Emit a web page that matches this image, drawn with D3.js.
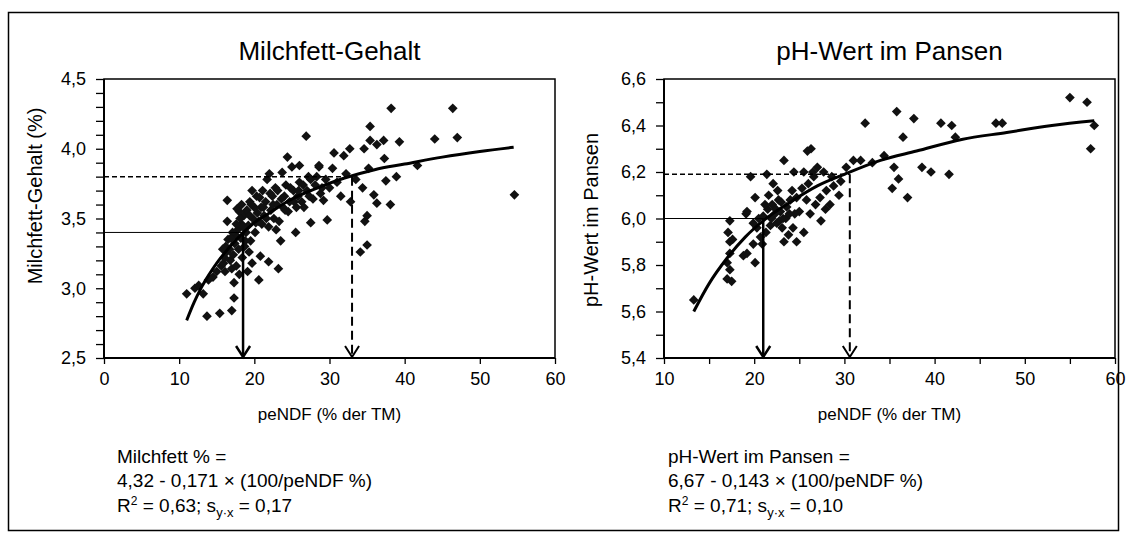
<!DOCTYPE html>
<html>
<head>
<meta charset="utf-8">
<script src="https://cdnjs.cloudflare.com/ajax/libs/d3/7.8.5/d3.min.js"></script>
<style>
body{margin:0;background:#fff;}
svg text{font-family:"Liberation Sans",Arial,sans-serif;fill:#000;}
</style>
</head>
<body>
<svg id="chart" width="1126" height="542"></svg>
<script>
// Milchfett: Punkte [peNDF, Fett %]
var milkPts = [
 [11.0,2.96],[12.1,3.00],[13.2,2.96],[12.6,3.02],[13.7,2.80],[13.9,3.06],[14.5,3.08],[15.0,3.12],
 [15.6,3.16],[15.9,3.18],[15.4,2.82],[16.0,3.22],[16.2,3.30],[16.3,3.26],[16.5,3.35],[16.7,3.28],
 [16.8,3.20],[17.0,2.84],[17.3,2.93],[17.3,3.04],[17.0,3.14],[17.2,3.24],[17.4,3.32],[17.5,3.38],
 [17.6,3.16],[17.8,3.42],[17.9,3.28],[18.0,3.10],[18.2,3.36],[18.3,3.46],[18.4,3.22],[18.6,3.52],
 [18.7,3.30],[18.9,3.40],[19.0,3.56],[19.1,3.12],[19.2,3.45],[19.4,3.62],[19.5,3.34],[19.7,3.18],
 [19.7,3.70],[19.8,3.50],[20.0,3.58],[20.1,3.40],[20.3,3.66],[20.6,3.06],[20.6,3.48],[20.8,3.23],
 [20.9,3.58],[21.1,3.70],[21.3,3.52],[21.5,3.62],[21.7,3.78],[21.9,3.19],[21.9,3.44],[22.2,3.56],
 [22.4,3.66],[22.6,3.50],[22.8,3.72],[23.0,3.60],[23.2,3.14],[23.3,3.48],[23.5,3.34],[23.7,3.83],
 [23.8,3.58],[24.0,3.66],[24.2,3.74],[24.4,3.94],[24.5,3.55],[24.7,3.62],[25.0,3.87],[25.2,3.70],
 [25.5,3.40],[25.6,3.58],[25.8,3.66],[26.0,3.76],[26.3,3.62],[26.6,3.58],[26.9,4.09],[27.0,3.70],
 [27.2,3.80],[27.5,3.47],[27.8,3.64],[28.1,3.74],[28.6,3.87],[28.8,3.68],[29.2,3.63],[29.5,3.78],
 [29.7,3.49],[30.0,3.72],[30.4,3.86],[30.6,3.97],[31.0,3.76],[31.5,3.66],[31.9,3.95],[32.2,3.82],
 [32.7,4.00],[32.8,3.62],[33.5,3.78],[34.1,3.26],[35.0,3.31],[34.4,3.72],[34.6,4.00],[34.7,3.48],
 [35.0,3.52],[35.2,3.86],[35.4,4.16],[35.4,4.06],[35.9,3.67],[36.3,3.61],[36.3,4.03],[37.2,4.06],
 [37.3,3.93],[37.5,3.77],[38.1,3.60],[38.2,4.29],[38.9,3.80],[39.3,4.05],[41.7,3.88],[44.0,4.07],
 [46.4,4.29],[47.0,4.08],[54.6,3.67],[16.4,3.63],[16.4,3.48],[17.7,3.57],[22.0,3.82],[26.0,3.88],
 [27.5,3.78],[28.6,3.88],[18.1,3.50],[18.8,3.34],[19.3,3.26],[20.4,3.54],[21.0,3.46],[22.9,3.42],
 [17.1,3.40],[17.6,3.46],[18.0,3.55],[18.5,3.44],[19.6,3.60],[20.2,3.47],[20.7,3.65],[21.2,3.58],
 [21.6,3.50],[22.1,3.68],[22.5,3.60],[23.1,3.70],[23.6,3.64],[24.1,3.56],[24.8,3.72],[25.3,3.62],
 [25.9,3.70],[26.5,3.74],[27.3,3.66],[28.3,3.80],[29.0,3.72],[16.9,3.36],[18.3,3.60],[19.4,3.52],
 [15.8,3.28],[16.1,3.12]
];
var milkFitX = [11, 12, 13, 14, 15, 16, 18, 20, 22, 25, 28, 32, 36, 40, 45, 50, 54.5];
var milkFitY = [2.77, 2.90, 3.01, 3.10, 3.18, 3.25, 3.37, 3.47, 3.54, 3.64, 3.71, 3.79, 3.85, 3.89, 3.94, 3.98, 4.01];
var milkSolid = [18.5, 3.4];
var milkDash = [33, 3.8];

// pH im Pansen
var phPts = [
 [13.3,5.65],[17.0,5.81],[17.0,5.74],[17.5,5.73],[17.3,5.78],[17.3,5.85],[17.3,5.90],[17.1,5.94],
 [17.3,5.99],[17.6,5.91],[18.8,5.84],[19.2,5.85],[20.1,5.81],[19.9,5.89],[20.9,5.89],[19.1,6.02],
 [19.9,5.98],[19.2,6.03],[20.1,6.09],[19.6,6.18],[21.4,6.19],[22.1,6.15],[20.5,6.00],[21.0,6.01],
 [21.5,6.04],[21.8,5.97],[22.0,6.06],[22.3,6.02],[22.5,5.98],[22.7,6.08],[22.9,6.03],[23.1,5.96],
 [23.3,5.90],[23.5,6.00],[23.6,6.05],[23.8,5.93],[24.0,6.08],[24.2,6.12],[24.4,6.20],[24.7,6.09],
 [24.7,5.90],[25.0,6.03],[25.3,6.13],[25.5,6.20],[25.5,5.94],[25.9,6.29],[26.3,6.30],[23.3,6.25],
 [26.0,6.15],[26.6,6.18],[26.8,6.06],[27.3,6.09],[27.4,5.99],[27.7,6.20],[28.0,6.12],[28.4,6.06],
 [28.8,6.14],[29.4,6.10],[29.6,6.16],[30.2,6.22],[31.0,6.25],[31.8,6.25],[32.3,6.41],[33.1,6.24],
 [34.4,6.27],[35.5,6.22],[35.3,6.13],[35.8,6.46],[36.0,6.17],[36.5,6.35],[37.0,6.09],[37.7,6.43],
 [38.6,6.22],[39.6,6.20],[40.7,6.41],[41.6,6.19],[41.9,6.40],[42.3,6.35],[46.8,6.41],[47.5,6.41],
 [55.0,6.52],[56.9,6.50],[57.7,6.40],[57.3,6.30],[21.2,6.06],[22.8,5.99],[24.5,6.02],[26.5,6.20],
 [27.0,6.22],[21.9,6.00],[23.0,6.07],[20.3,5.96],[21.6,6.10],[22.4,6.04],[23.2,6.00],[23.9,6.02],
 [24.3,5.96],[22.6,6.12],[25.8,6.08],[26.2,6.02],[27.9,6.04],[28.6,6.18],[21.3,5.94],[20.7,5.92]
];
var phFitX = [13.3, 15, 17, 19, 21, 24, 27, 30, 34, 38, 43, 48, 53, 57.7];
var phFitY = [5.60, 5.72, 5.83, 5.92, 5.99, 6.07, 6.14, 6.19, 6.25, 6.29, 6.34, 6.37, 6.40, 6.42];
var phSolid = [21, 6.0];
var phDash = [30.6, 6.19];

var svg = d3.select("#chart");

// Rahmen aussen
svg.append("rect")
    .attr("x", 8.5).attr("y", 12.5)
    .attr("width", 1110).attr("height", 518)
    .attr("fill", "none").attr("stroke", "#000").attr("stroke-width", 1.5);

function komma(v){ return d3.format(".1f")(v).replace(".", ","); }

function panel(o){
    var x = d3.scaleLinear().domain(o.xDom).range([o.left, o.right]);
    var y = d3.scaleLinear().domain(o.yDom).range([o.bottom, o.top]);
    var g = svg.append("g");

    // Titel
    g.append("text")
        .attr("x", (o.left + o.right) / 2).attr("y", 60)
        .attr("text-anchor", "middle").attr("font-size", 26)
        .text(o.title);

    // Achsen
    var ax = g.append("g")
        .attr("transform", "translate(0," + o.bottom + ")")
        .call(d3.axisBottom(x).tickValues(o.xTicks).tickSize(6).tickPadding(8)
            .tickFormat(function(d){ return o.xLab(d) ? d : ""; }));
    var ay = g.append("g")
        .attr("transform", "translate(" + o.left + ",0)")
        .call(d3.axisLeft(y).tickValues(o.yTicks).tickSize(8).tickPadding(10)
            .tickFormat(function(d){ return o.yLab(d) ? komma(d) : ""; }));
    [ax, ay].forEach(function(a){
        a.select(".domain").remove();
        a.attr("font-family", null).attr("font-size", 18);
        a.selectAll("line").attr("stroke", "#000").attr("stroke-width", 1.3);
        a.selectAll("text").attr("fill", "#000");
    });

    g.append("rect")
        .attr("x", o.left).attr("y", o.top)
        .attr("width", o.right - o.left).attr("height", o.bottom - o.top)
        .attr("fill", "none").attr("stroke", "#000").attr("stroke-width", 1.5);
    g.append("line").attr("x1", o.left).attr("x2", o.left).attr("y1", o.top).attr("y2", o.bottom)
        .attr("stroke", "#000").attr("stroke-width", 2);
    g.append("line").attr("x1", o.left).attr("x2", o.right).attr("y1", o.bottom).attr("y2", o.bottom)
        .attr("stroke", "#000").attr("stroke-width", 2);

    // Achsentitel
    g.append("text")
        .attr("transform", "translate(" + o.yTitleX + "," + o.yTitleY + ") rotate(-90)")
        .attr("text-anchor", "middle").attr("font-size", 20)
        .text(o.yTitle);
    g.append("text")
        .attr("x", (o.left + o.right) / 2).attr("y", 420)
        .attr("text-anchor", "middle").attr("font-size", 17)
        .text("peNDF (% der TM)");

    // Punkte
    g.selectAll(".pt").data(o.pts).enter().append("path")
        .attr("class", "pt")
        .attr("d", d3.symbol().type(d3.symbolDiamond2).size(60))
        .attr("transform", function(d){ return "translate(" + x(d[0]) + "," + y(d[1]) + ")"; })
        .attr("fill", "#111");

    // Hilfslinien
    var y0 = o.yDom[0];
    g.append("line")
        .attr("x1", x(o.xDom[0])).attr("x2", x(o.solid[0]))
        .attr("y1", y(o.solid[1])).attr("y2", y(o.solid[1]))
        .attr("stroke", "#000").attr("stroke-width", 1);
    g.append("line")
        .attr("x1", x(o.xDom[0])).attr("x2", x(o.dash[0]))
        .attr("y1", y(o.dash[1])).attr("y2", y(o.dash[1]))
        .attr("stroke", "#000").attr("stroke-width", 1.5).attr("stroke-dasharray", "5,3");
    g.append("line")
        .attr("x1", x(o.solid[0])).attr("x2", x(o.solid[0]))
        .attr("y1", y(o.solid[1])).attr("y2", y(y0) - 1)
        .attr("stroke", "#000").attr("stroke-width", 2.5);
    g.append("line")
        .attr("x1", x(o.dash[0])).attr("x2", x(o.dash[0]))
        .attr("y1", y(o.dash[1])).attr("y2", y(y0) - 1)
        .attr("stroke", "#000").attr("stroke-width", 2).attr("stroke-dasharray", "9,5");
    [o.solid[0], o.dash[0]].forEach(function(v, i){
        var tx = x(v), ty = y(y0) - 1;
        g.append("path")
            .attr("d", "M" + (tx - 7) + "," + (ty - 11) + "L" + tx + "," + ty + "L" + (tx + 7) + "," + (ty - 11))
            .attr("fill", "none").attr("stroke", "#000").attr("stroke-width", i ? 2 : 2.5);
    });

    // Kurve
    var fit = o.fitX.map(function(v, i){ return [v, o.fitY[i]]; });
    g.append("path").datum(fit)
        .attr("d", d3.line().x(function(d){ return x(d[0]); }).y(function(d){ return y(d[1]); }).curve(d3.curveMonotoneX))
        .attr("fill", "none").attr("stroke", "#000").attr("stroke-width", 3);

    // Gleichung
    var eq = g.append("text").attr("font-size", 19);
    eq.append("tspan").attr("x", o.eqX).attr("y", 463).text(o.eq1);
    eq.append("tspan").attr("x", o.eqX).attr("y", 487).text(o.eq2);
    var l3 = g.append("text").attr("font-size", 19).attr("x", o.eqX).attr("y", 512);
    l3.append("tspan").text("R");
    l3.append("tspan").attr("font-size", 12).attr("dy", -7).text("2");
    l3.append("tspan").attr("dy", 7).text(" = " + o.r2 + "; s");
    l3.append("tspan").attr("font-size", 13).attr("dy", 5).text("y·x");
    l3.append("tspan").attr("dy", -5).text(" = " + o.syx);
}

panel({
    title: "Milchfett-Gehalt", yTitle: "Milchfett-Gehalt (%)",
    xDom: [0, 60], yDom: [2.5, 4.5],
    left: 104, right: 555, top: 79, bottom: 358,
    xTicks: [0, 10, 20, 30, 40, 50, 60], xLab: function(d){ return true; },
    yTicks: d3.range(25, 46).map(function(d){ return d / 10; }),
    yLab: function(d){ return Math.abs(d * 2 - Math.round(d * 2)) < 1e-6; },
    yTitleX: 42, yTitleY: 196,
    pts: milkPts, fitX: milkFitX, fitY: milkFitY, solid: milkSolid, dash: milkDash,
    eqX: 117, eq1: "Milchfett % =", eq2: "4,32 - 0,171 × (100/peNDF %)", r2: "0,63", syx: "0,17"
});

panel({
    title: "pH-Wert im Pansen", yTitle: "pH-Wert im Pansen",
    xDom: [10, 60], yDom: [5.4, 6.6],
    left: 664, right: 1115, top: 79, bottom: 358,
    xTicks: d3.range(10, 61, 5), xLab: function(d){ return d % 10 === 0; },
    yTicks: d3.range(54, 67).map(function(d){ return d / 10; }),
    yLab: function(d){ return Math.abs(d * 5 - Math.round(d * 5)) < 1e-6; },
    yTitleX: 598, yTitleY: 220,
    pts: phPts, fitX: phFitX, fitY: phFitY, solid: phSolid, dash: phDash,
    eqX: 668, eq1: "pH-Wert im Pansen =", eq2: "6,67 - 0,143 × (100/peNDF %)", r2: "0,71", syx: "0,10"
});
</script>
</body>
</html>
